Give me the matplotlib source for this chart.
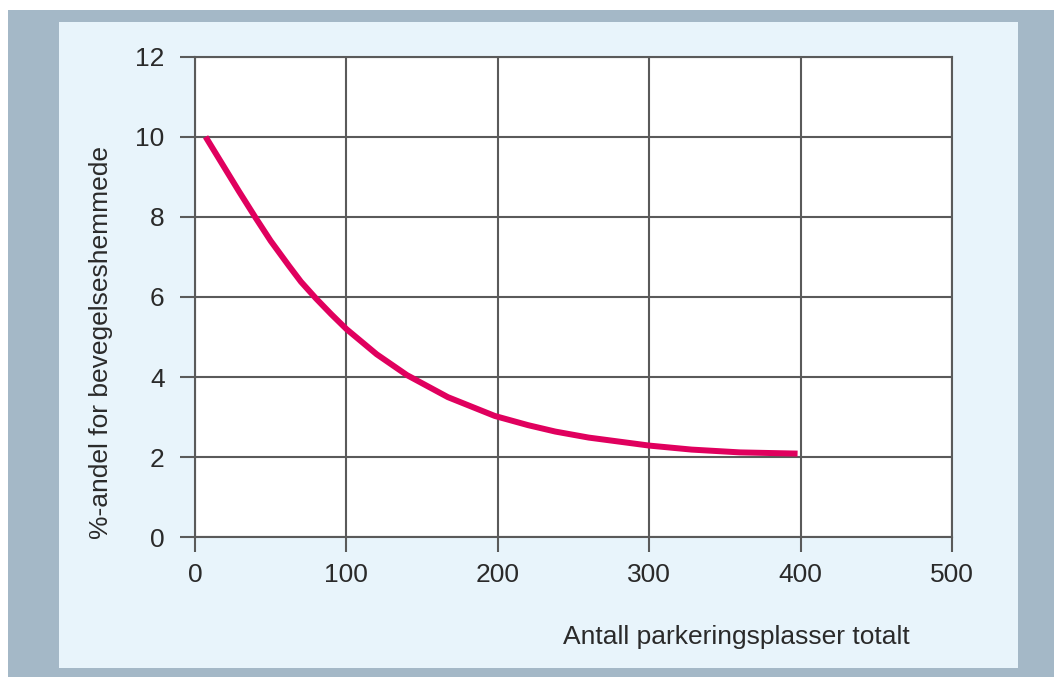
import matplotlib
matplotlib.use("Agg")
import matplotlib.pyplot as plt
from matplotlib.patches import Rectangle

# Data
x_vals = [7, 18, 29, 40, 50, 62, 70, 80, 90, 100, 120, 140, 167, 198, 220, 238, 260, 300, 328, 360, 398]
y_vals = [10.0, 9.32, 8.64, 7.98, 7.40, 6.78, 6.38, 5.96, 5.57, 5.2, 4.57, 4.05, 3.5, 3.03, 2.8, 2.64, 2.49, 2.29, 2.19, 2.12, 2.09]
x_ticks = [0, 100, 200, 300, 400, 500]
y_ticks = [0, 2, 4, 6, 8, 10, 12]
x_label = "Antall parkeringsplasser totalt"
y_label = "%-andel for bevegelseshemmede"

plt.rcParams['font.family'] = ['Liberation Sans', 'DejaVu Sans']

W, H = 1054, 677
fig = plt.figure(figsize=(W / 100, H / 100), dpi=100, facecolor="white")

# outer grey-blue frame and light-blue panel
fig.patches.append(Rectangle((8 / W, 0), 1 - 8 / W, (H - 10) / H,
                             transform=fig.transFigure, facecolor="#a4b8c7",
                             edgecolor="none", zorder=-3))
fig.patches.append(Rectangle((59 / W, (H - 668) / H), (1018 - 59) / W, (668 - 22) / H,
                             transform=fig.transFigure, facecolor="#e8f4fb",
                             edgecolor="none", zorder=-2))

left, right = 195 / W, 952 / W
bottom, top = (H - 537.3) / H, (H - 56.7) / H
ax = fig.add_axes([left, bottom, right - left, top - bottom])
ax.set_facecolor("white")

grid_c = "#5a5a5a"
ax.set_xlim(0, 500)
ax.set_ylim(0, 12)
ax.set_xticks(x_ticks)
ax.set_yticks(y_ticks)
ax.grid(True, color=grid_c, linewidth=1.5)
ax.set_axisbelow(True)
for s in ax.spines.values():
    s.set_color(grid_c)
    s.set_linewidth(1.5)
ax.tick_params(direction="out", length=10.8, width=1.5, color=grid_c,
               labelsize=19, labelcolor="#2a2a2a")
ax.tick_params(axis="y", pad=11)
ax.tick_params(axis="x", pad=8)

ax.plot(x_vals, y_vals, color="#e0005e", linewidth=4.3, solid_capstyle="butt",
        solid_joinstyle="round", zorder=3)

fig.text(910 / W, (H - 637) / H, x_label, ha="right", va="center",
         fontsize=19, color="#2a2a2a")
fig.text(101 / W, (H - 342.5) / H, y_label, ha="center", va="center",
         rotation=90, fontsize=19, color="#2a2a2a")

fig.savefig("out.png", dpi=100, facecolor=fig.get_facecolor())
